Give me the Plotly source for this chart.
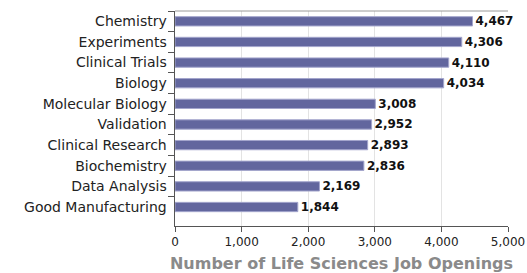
import plotly.graph_objects as go

categories = ["Chemistry", "Experiments", "Clinical Trials", "Biology", "Molecular Biology",
              "Validation", "Clinical Research", "Biochemistry", "Data Analysis", "Good Manufacturing"]
values = [4467, 4306, 4110, 4034, 3008, 2952, 2893, 2836, 2169, 1844]
x_ticks = [0, 1000, 2000, 3000, 4000, 5000]
x_title = "Number of Life Sciences Job Openings"

font_main = "'DejaVu Sans', sans-serif"

fig = go.Figure(go.Bar(
    y=categories, x=values, orientation="h",
    width=0.45,
    marker=dict(color="#62669e", line=dict(color="#a3a5cc", width=1)),
    text=[f"{v:,}" for v in values], textposition="outside",
    constraintext="none",
    textfont=dict(family="'DejaVu Sans', sans-serif", size=12, color="#111111", weight="bold"),
    cliponaxis=False,
    hoverinfo="skip",
))

fig.update_layout(
    width=527, height=273,
    margin=dict(l=175, r=19, t=11, b=47),
    paper_bgcolor="white", plot_bgcolor="white",
    showlegend=False,
    font=dict(family=font_main, size=14, color="#222222"),
)
fig.update_xaxes(
    range=[0, 5000], tickvals=x_ticks, ticktext=[f"{t:,}" for t in x_ticks],
    showgrid=True, gridcolor="#e3e3e3", gridwidth=1,
    showline=True, linecolor="#555555", linewidth=1,
    ticks="outside", ticklen=5, tickcolor="#555555",
    tickfont=dict(size=12, color="#222222"),
    zeroline=False, automargin=False,
    title=dict(text=x_title, font=dict(family="'DejaVu Sans', sans-serif", size=16, color="#8a8a8a", weight="bold"), standoff=20),
)
fig.update_yaxes(
    type="category", categoryorder="array", categoryarray=categories,
    range=[9.92, -0.5], automargin=False,
    showline=True, linecolor="#555555", linewidth=1,
    ticks="outside", ticklen=6, tickcolor="#555555", tickson="boundaries",
    showgrid=False, ticksuffix=" ",
    tickfont=dict(size=14, color="#222222"),
)
fig.add_shape(type="line", xref="paper", yref="paper", x0=0, x1=1, y0=1, y1=1,
              line=dict(color="#9a9a9a", width=1))

fig.write_html("out.html",
               config={"displayModeBar": False},
               post_script="document.body.style.margin='0';document.body.style.overflow='hidden';")
